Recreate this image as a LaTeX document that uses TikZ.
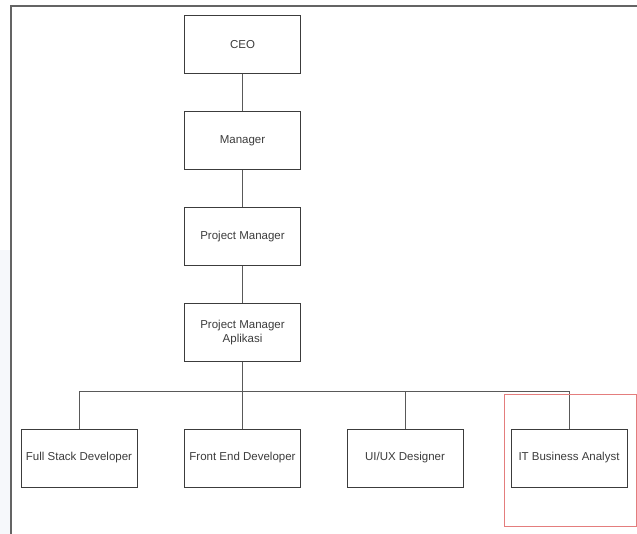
\documentclass[tikz,border=0pt]{standalone}
\usepackage{fontspec}
\setmainfont{Liberation Sans}
\definecolor{linec}{RGB}{60,60,60}
\definecolor{textc}{RGB}{60,60,60}
\definecolor{framec}{RGB}{100,100,100}
\definecolor{hilite}{RGB}{228,125,125}
\definecolor{stripc}{RGB}{246,248,251}
\begin{document}
\begin{tikzpicture}[x=1pt,y=-1pt,
  box/.style={draw=linec,line width=1pt,rectangle,minimum width=116pt,minimum height=58pt,
    inner sep=1pt,align=center,text=textc,font=\fontsize{11.5}{14}\selectfont},
  conn/.style={draw=linec!85,line width=1pt}]
\useasboundingbox (0,0) rectangle (637,534);
\fill[white] (0,0) rectangle (637,534);
\fill[stripc] (0,250) rectangle (10.3,534);
% frame
\draw[framec,line width=1.3pt] (11,534) -- (11,6) -- (637,6);
% nodes
\node[box] (ceo) at (242.5,44.5) {CEO};
\node[box] (mgr) at (242.5,141) {Manager};
\node[box] (pm) at (242.5,237) {Project Manager};
\node[box] (pma) at (242.5,333) {Project Manager\\Aplikasi};
\node[box] (fs) at (79,458) {Full Stack Developer};
\node[box] (fe) at (242.5,458) {Front End Developer};
\node[box] (ux) at (405,458) {UI/UX Designer};
\node[box] (ba) at (569,458) {IT Business Analyst};
\coordinate (bus) at (0,391);
% connectors
\draw[conn] (ceo.south) -- (mgr.north);
\draw[conn] (mgr.south) -- (pm.north);
\draw[conn] (pm.south) -- (pma.north);
\draw[conn] (pma.south) -- (pma.south |- bus);
\draw[conn] (fs.north) -- (fs.north |- bus) -- (ba.north |- bus) -- (ba.north);
\draw[conn] (fe.north) -- (fe.north |- bus);
\draw[conn] (ux.north) -- (ux.north |- bus);
% highlight
\node[draw=hilite,line width=1pt,minimum width=132pt,minimum height=132pt,inner sep=0pt] (hl) at (570,460) {};
\end{tikzpicture}
\end{document}
